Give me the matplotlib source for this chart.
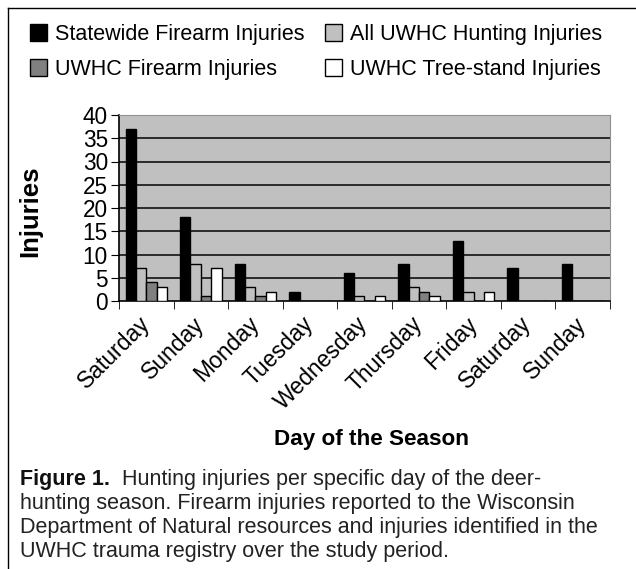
import matplotlib
matplotlib.use("Agg")
import matplotlib.pyplot as plt
import numpy as np
from matplotlib.lines import Line2D

plt.rcParams['font.family'] = ['Liberation Sans', 'DejaVu Sans']

days = ["Saturday", "Sunday", "Monday", "Tuesday", "Wednesday",
        "Thursday", "Friday", "Saturday", "Sunday"]
statewide_firearm = [37, 18, 8, 2, 6, 8, 13, 7, 8]
all_uwhc_hunting = [7, 8, 3, 0, 1, 3, 2, 0, 0]
uwhc_firearm = [4, 1, 1, 0, 0, 2, 0, 0, 0]
uwhc_treestand = [3, 7, 2, 0, 1, 1, 2, 0, 0]
series_names = ["Statewide Firearm Injuries", "All UWHC Hunting Injuries",
                "UWHC Firearm Injuries", "UWHC Tree-stand Injuries"]
y_ticks = [0, 5, 10, 15, 20, 25, 30, 35, 40]
caption_bold = "Figure 1."
caption_lines = ["  Hunting injuries per specific day of the deer-",
                 "hunting season. Firearm injuries reported to the Wisconsin",
                 "Department of Natural resources and injuries identified in the",
                 "UWHC trauma registry over the study period."]

W, H = 636, 569
fig = plt.figure(figsize=(W / 100, H / 100), dpi=100)
fig.patch.set_facecolor("white")

def fx(px):
    return px / W

def fy(py):
    return 1 - py / H

# outer frame (left and top)
fig.add_artist(Line2D([fx(7.5), fx(7.5)], [0, fy(8)], transform=fig.transFigure,
                      color="black", lw=1))
fig.add_artist(Line2D([fx(7.5), 1], [fy(8), fy(8)], transform=fig.transFigure,
                      color="black", lw=1))

ax_l, ax_r, ax_t, ax_b = 119, 610, 115, 301
ax = fig.add_axes([fx(ax_l), fy(ax_b), (ax_r - ax_l) / W, (ax_b - ax_t) / H])
ax.set_facecolor("#c0c0c0")

x = np.arange(len(days))
bw = 0.19
colors = ["black", "#c0c0c0", "#808080", "white"]
data = [statewide_firearm, all_uwhc_hunting, uwhc_firearm, uwhc_treestand]
handles = []
for i, (vals, c, name) in enumerate(zip(data, colors, series_names)):
    b = ax.bar(x + (i - 1.5) * bw, vals, width=bw, color=c, edgecolor="black",
               linewidth=1, label=name, zorder=3)
    handles.append(b)

ax.set_xlim(-0.5, len(days) - 0.5)
ax.set_ylim(0, 40)
ax.set_yticks(y_ticks)
ax.set_yticklabels([str(v) for v in y_ticks], fontsize=16.3)
for v in y_ticks[1:-1]:
    ax.axhline(v, color="#111111", lw=1.2, zorder=1)

ax.set_xticks(x)
ax.set_xticklabels(days, rotation=45, ha="right", va="center",
                   rotation_mode="anchor", fontsize=16.5)
ax.tick_params(axis="x", which="major", length=0, pad=14)
ax.set_xticks(np.arange(-0.5, len(days), 1), minor=True)
ax.tick_params(axis="x", which="minor", length=6, direction="out", color="black")
ax.tick_params(axis="y", length=6, direction="out", pad=2)

for s in ["top", "right"]:
    ax.spines[s].set_color("#909090")
for s in ["left", "bottom"]:
    ax.spines[s].set_color("black")
    ax.spines[s].set_linewidth(1.2)

fig.text(fx(30), fy(211), "Injuries", rotation=90, fontsize=18.5, fontweight="bold",
         ha="center", va="center")
fig.text(fx(372), fy(445), "Day of the Season", fontsize=16.2, fontweight="bold",
         ha="center", va="baseline")

order = [0, 2, 1, 3]
leg = fig.legend(handles=[handles[i] for i in order],
                 labels=[series_names[i] for i in order], ncol=2, loc="upper left",
                 bbox_to_anchor=(fx(30), fy(24)), frameon=False, fontsize=15.5,
                 handlelength=0.8, handleheight=0.8, handletextpad=0.37,
                 columnspacing=0.93, labelspacing=0.64, borderaxespad=0, borderpad=0)

renderer = fig.canvas.get_renderer()
t = fig.text(fx(20), fy(485), caption_bold, fontsize=15.5, fontweight="bold",
             ha="left", va="baseline", color="#111111")
bold_w = t.get_window_extent(renderer=renderer).width
fig.text(fx(20 + bold_w), fy(485), caption_lines[0], fontsize=15.5,
         ha="left", va="baseline", color="#222222")
for k, line in enumerate(caption_lines[1:]):
    fig.text(fx(20), fy(509 + 24 * k), line, fontsize=15.5,
             ha="left", va="baseline", color="#222222")

fig.savefig("out.png", dpi=100)
